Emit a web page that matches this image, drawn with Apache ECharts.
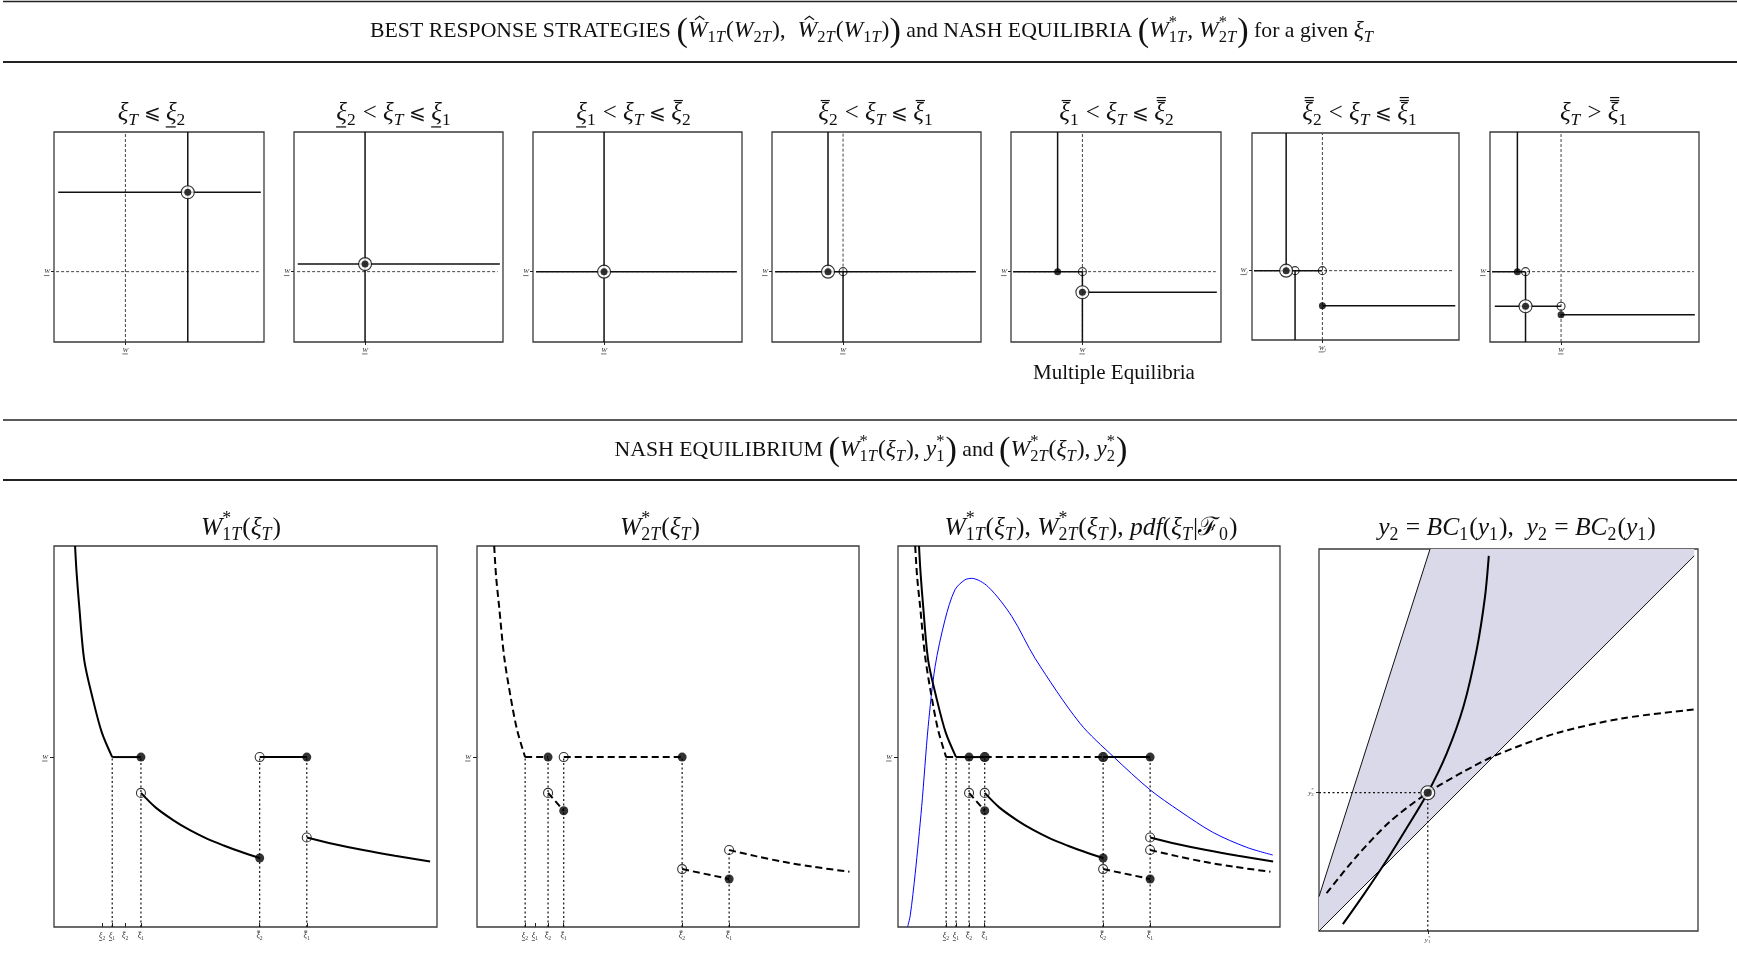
<!DOCTYPE html>
<html>
<head>
<meta charset="utf-8">
<script src="https://cdn.jsdelivr.net/npm/echarts@6.0.0/dist/echarts.min.js"></script>
<style>
html,body{margin:0;padding:0;background:#ffffff;}
#chart{width:1737px;height:978px;}
</style>
</head>
<body>
<div id="chart"></div>
<script>
// ================= DATA =================
// ---- Top row: best-response diagrams (axes normalised 0..1) ----
const topWx = 0.34;    // W̲ on the horizontal axis
const topWy = 0.335;   // W̲ on the vertical axis

const p1Ref    = [[[0.34,0],[0.34,1]], [[0.01,0.335],[0.975,0.335]]];
const p1Solid  = [[[0.637,0],[0.637,1]], [[0.02,0.713],[0.985,0.713]]];
const p1Filled = [];
const p1Open   = [];
const p1Eq     = [[0.637,0.713]];

const p2Ref    = [[[0.015,0.335],[0.975,0.335]]];
const p2Solid  = [[[0.34,0],[0.34,1]], [[0.018,0.371],[0.985,0.371]]];
const p2Filled = [];
const p2Open   = [];
const p2Eq     = [[0.34,0.371]];

const p3Ref    = [[[0.015,0.335],[0.975,0.335]]];
const p3Solid  = [[[0.34,0],[0.34,1]], [[0.015,0.335],[0.975,0.335]]];
const p3Filled = [];
const p3Open   = [];
const p3Eq     = [[0.34,0.335]];

const p4Ref    = [[[0.34,0.335],[0.34,1]], [[0.015,0.335],[0.975,0.335]]];
const p4Solid  = [[[0.268,1],[0.268,0.335]], [[0.015,0.335],[0.975,0.335]], [[0.34,0.335],[0.34,0]]];
const p4Filled = [];
const p4Open   = [[0.34,0.335]];
const p4Eq     = [[0.268,0.335]];

const p5Ref    = [[[0.34,0],[0.34,1]], [[0.01,0.335],[0.975,0.335]]];
const p5Solid  = [[[0.222,1],[0.222,0.335]], [[0.01,0.335],[0.34,0.335]], [[0.34,0.335],[0.34,0]], [[0.34,0.237],[0.98,0.237]]];
const p5Filled = [[0.222,0.335]];
const p5Open   = [[0.34,0.335]];
const p5Eq     = [[0.34,0.237]];

const p6Ref    = [[[0.34,0],[0.34,1]], [[0.01,0.335],[0.975,0.335]]];
const p6Solid  = [[[0.165,1],[0.165,0.335]], [[0.01,0.335],[0.34,0.335]], [[0.208,0.335],[0.208,0]], [[0.34,0.165],[0.982,0.165]]];
const p6Filled = [[0.34,0.165]];
const p6Open   = [[0.208,0.335],[0.34,0.335]];
const p6Eq     = [[0.165,0.335]];

const p7Ref    = [[[0.34,0],[0.34,1]], [[0.01,0.335],[0.975,0.335]]];
const p7Solid  = [[[0.131,1],[0.131,0.335]], [[0.01,0.335],[0.17,0.335]], [[0.17,0.335],[0.17,0]], [[0.023,0.17],[0.34,0.17]], [[0.34,0.13],[0.98,0.13]]];
const p7Filled = [[0.131,0.335],[0.34,0.13]];
const p7Open   = [[0.17,0.335],[0.34,0.17]];
const p7Eq     = [[0.17,0.17]];

// ---- Bottom row: Nash equilibrium wealth vs ξ_T (axes 0..100) ----
const xiTicks = [12.6, 15.2, 18.6, 22.7, 53.7, 66.0];
const xiBars  = ['u','u','o','o','oo','oo'];   // under-bar, bar, double bar
const xiSubs  = ['2','1','2','1','2','1'];
const wLevel  = 44.6;

const w1Curve1 = [[5.5,100],[5.9,93],[6.6,84],[7.9,70],[10.1,60],[12.5,51],[15.2,44.6]];
const w1Flat1  = [[15.2,44.6],[22.7,44.6]];
const w1Curve2 = [[22.7,35.2],[26.5,31.4],[31.2,28.0],[35.5,25.4],[39.9,23.2],[44.3,21.4],[48.6,19.8],[53.7,18.1]];
const w1Flat2  = [[53.7,44.6],[66.0,44.6]];
const w1Curve3 = [[66.0,23.5],[73.0,21.8],[80.7,20.2],[89.0,18.7],[98.2,17.2]];
const w1Filled = [[22.7,44.6],[53.7,18.1],[66.0,44.6]];
const w1Open   = [[22.7,35.2],[53.7,44.6],[66.0,23.5]];
const w1Drops  = [[15.2,44.6],[22.7,44.6],[53.7,44.6],[66.0,44.6]];

const w2Curve1 = [[4.5,100],[5.0,92],[5.8,84],[7.1,71],[8.8,60.4],[10.5,51.7],[12.6,44.6]];
const w2Flat1  = [[12.6,44.6],[18.6,44.6]];
const w2Seg2   = [[18.6,35.2],[22.7,30.5]];
const w2Flat2  = [[22.7,44.6],[53.7,44.6]];
const w2Seg3   = [[53.7,15.2],[66.0,12.6]];
const w2Curve4 = [[66.0,20.2],[73.0,18.6],[80.2,17.1],[88.0,15.8],[97.5,14.5]];
const w2Filled = [[18.6,44.6],[22.7,30.5],[53.7,44.6],[66.0,12.6]];
const w2Open   = [[18.6,35.2],[22.7,44.6],[53.7,15.2],[66.0,20.2]];
const w2Drops  = [[12.6,44.6],[18.6,44.6],[22.7,44.6],[53.7,44.6],[66.0,20.2]];

const pdfCurve = [[2.5,0],[3.2,3],[4.5,14],[6.2,31.6],[7.9,52.6],[9.7,68.3],[12.3,80.6],[14.9,88.5],[17.5,91.1],[19.3,91.5],[23.6,89.3],[29.8,81.5],[35.9,70.5],[47.6,53.5],[56.4,44.7],[66.0,36.0],[73.8,30.4],[82.5,24.8],[91.3,20.9],[98.1,18.9]];

// ---- Bottom right: best-response curves in (y1, y2) ----
const bcLower  = [[0,0],[99,98.2]];
const bcUpper  = [[0,9],[29.3,100]];
const bcRegion = [[0,0],[0,9],[29.3,100],[99,100],[99,98.2]];
const bc1      = [[6.3,1.8],[11.7,9.4],[17.9,18.6],[23.1,26.9],[28.7,36.2],[33.7,46.5],[38.1,58.7],[41.6,73.6],[43.8,87.5],[44.8,98.2]];
const bc2      = [[2.0,9.9],[9.9,19.5],[18.7,28.6],[28.7,36.2],[38.1,41.7],[46.9,46.1],[62.7,51.8],[80.3,55.7],[99.0,58.0]];
const bcEq     = [[28.7,36.2]];

// ================= BUILD =================
const INK = '#111';
const grids = [], xAxes = [], yAxes = [], series = [];

function addGrid(l, t, w, h) {
  grids.push({left:l, top:t, width:w, height:h, show:true, borderColor:'#3a3a3a', borderWidth:1.3,
    backgroundColor:'rgba(0,0,0,0)', containLabel:false, outerBoundsMode:'none'});
  return grids.length - 1;
}
function mkAxis(gi, min, max, ticks, inside, len) {
  return {
    type:'value', gridIndex:gi, min:min, max:max,
    axisLine:{show:false}, splitLine:{show:false},
    axisTick:{show:true, customValues:ticks, inside:inside, length:len, lineStyle:{color:'#222', width:1}},
    axisLabel:{show:false}
  };
}
function addLine(gi, pts, style, smooth, z) {
  series.push({type:'line', xAxisIndex:gi, yAxisIndex:gi, data:pts, symbol:'none', showSymbol:false,
    smooth: smooth ? 0.3 : false, lineStyle:style, silent:true, animation:false, z: z || 3});
}
function addDots(gi, pts, kind, size) {
  if (!pts.length) return;
  const isOpen = kind === 'open';
  series.push({type:'scatter', xAxisIndex:gi, yAxisIndex:gi, data:pts, symbol:'circle', symbolSize:size,
    itemStyle: isOpen ? {color:'rgba(255,255,255,0)', borderColor:'#000', borderWidth:1.1}
                      : {color:'#000', borderColor:'#000', borderWidth:0},
    silent:true, animation:false, z: isOpen ? 5 : 6});
}
function addEq(gi, pts, ring, dot) {
  if (!pts.length) return;
  series.push({type:'scatter', xAxisIndex:gi, yAxisIndex:gi, data:pts, symbol:'circle', symbolSize:ring,
    itemStyle:{color:'#fff', borderColor:'#000', borderWidth:1.1}, silent:true, animation:false, z:7});
  series.push({type:'scatter', xAxisIndex:gi, yAxisIndex:gi, data:pts, symbol:'circle', symbolSize:dot,
    itemStyle:{color:'#000'}, silent:true, animation:false, z:8});
}

const refStyle   = {color:'#444', width:1, type:[3,2]};
const solidTop   = {color:'#111', width:1.5};
const solidBot   = {color:'#000', width:2};
const dashedBot  = {color:'#000', width:2, type:[7,4]};
const dottedBot  = {color:'#111', width:1.2, type:[2,2.5]};

// ---- top row ----
const topBoxes = [[54,132,210,210],[294,132,209,210],[533,132,209,210],[772,132,209,210],[1011,132,210,210],[1252,133,207,207],[1490,132,209,210]];
const topPanels = [
  [p1Ref,p1Solid,p1Filled,p1Open,p1Eq],
  [p2Ref,p2Solid,p2Filled,p2Open,p2Eq],
  [p3Ref,p3Solid,p3Filled,p3Open,p3Eq],
  [p4Ref,p4Solid,p4Filled,p4Open,p4Eq],
  [p5Ref,p5Solid,p5Filled,p5Open,p5Eq],
  [p6Ref,p6Solid,p6Filled,p6Open,p6Eq],
  [p7Ref,p7Solid,p7Filled,p7Open,p7Eq]
];
topPanels.forEach(function (pd, k) {
  const b = topBoxes[k];
  const gi = addGrid(b[0], b[1], b[2], b[3]);
  xAxes.push(mkAxis(gi, 0, 1, [topWx], false, 3));
  yAxes.push(mkAxis(gi, 0, 1, [topWy], false, 3));
  pd[0].forEach(function (s) { addLine(gi, s, refStyle, false, 2); });
  pd[1].forEach(function (s) { addLine(gi, s, solidTop, false, 3); });
  addDots(gi, pd[3], 'open', 8);
  addDots(gi, pd[2], 'filled', 7);
  addEq(gi, pd[4], 13, 7);
});

// ---- bottom row ----
function bottomAxes(gi) {
  xAxes.push(mkAxis(gi, 0, 100, xiTicks, true, 4));
  yAxes.push(mkAxis(gi, 0, 100, [wLevel], false, 4));
}
function drawDrops(gi, pts) {
  pts.forEach(function (p) { addLine(gi, [[p[0], 0], p], dottedBot, false, 2); });
}
function drawW1(gi) {
  addLine(gi, w1Curve1, solidBot, true, 4);
  addLine(gi, w1Flat1, solidBot, false, 4);
  addLine(gi, w1Curve2, solidBot, true, 4);
  addLine(gi, w1Flat2, solidBot, false, 4);
  addLine(gi, w1Curve3, solidBot, true, 4);
}
function drawW2(gi) {
  addLine(gi, w2Curve1, dashedBot, true, 4);
  addLine(gi, w2Flat1, dashedBot, false, 4);
  addLine(gi, w2Seg2, dashedBot, false, 4);
  addLine(gi, w2Flat2, dashedBot, false, 4);
  addLine(gi, w2Seg3, dashedBot, false, 4);
  addLine(gi, w2Curve4, dashedBot, true, 4);
}

const g1 = addGrid(54, 546, 383, 381);
bottomAxes(g1);
drawDrops(g1, w1Drops);
drawW1(g1);
addDots(g1, w1Open, 'open', 9);
addDots(g1, w1Filled, 'filled', 9);

const g2 = addGrid(477, 546, 382, 381);
bottomAxes(g2);
drawDrops(g2, w2Drops);
drawW2(g2);
addDots(g2, w2Open, 'open', 9);
addDots(g2, w2Filled, 'filled', 9);

const g3 = addGrid(898, 546, 382, 381);
bottomAxes(g3);
drawDrops(g3, xiTicks.map(function (x) { return [x, wLevel]; }));
addLine(g3, pdfCurve, {color:'#0000ff', width:1}, true, 3);
drawW1(g3);
drawW2(g3);
addDots(g3, w1Open.concat(w2Open), 'open', 9);
addDots(g3, w1Filled.concat(w2Filled), 'filled', 9);

const g4 = addGrid(1319, 549, 379, 382);
xAxes.push(mkAxis(g4, 0, 100, [bcEq[0][0]], false, 3));
yAxes.push(mkAxis(g4, 0, 100, [bcEq[0][1]], false, 3));
series.push({type:'custom', xAxisIndex:g4, yAxisIndex:g4, data:bcRegion, silent:true, animation:false, z:1,
  renderItem: function (params, api) {
    if (params.dataIndex !== 0) return null;
    const pts = bcRegion.map(function (p) { return api.coord(p); });
    return {type:'polygon', shape:{points:pts}, style:{fill:'#d9d9ea', stroke:'none'}};
  }});
addLine(g4, bcLower, {color:'#111', width:1}, false, 3);
addLine(g4, bcUpper, {color:'#111', width:1}, false, 3);
addLine(g4, [[0, bcEq[0][1]], bcEq[0]], dottedBot, false, 3);
addLine(g4, [[bcEq[0][0], 0], bcEq[0]], dottedBot, false, 3);
addLine(g4, bc1, solidBot, true, 4);
addLine(g4, bc2, dashedBot, true, 4);
addEq(g4, bcEq, 14, 8);

const chart = echarts.init(document.getElementById('chart'), null, {renderer:'canvas', width:1737, height:978});
chart.setOption({
  animation:false, backgroundColor:'#ffffff',
  grid:grids, xAxis:xAxes, yAxis:yAxes, series:series
});

// ================= MATH-LIKE TEXT LAYOUT =================
const MFONT = '"Liberation Serif", "DejaVu Serif", serif';
const mctx = document.createElement('canvas').getContext('2d');
function fstr(it, sz) { return (it ? 'italic ' : '') + sz.toFixed(2) + 'px ' + MFONT; }
function mw(t, it, sz) { mctx.font = fstr(it, sz); return mctx.measureText(t).width; }

// tokens: ['m',text,italic,bar] | ['c',text] (text, slightly smaller) | ['r',text] (relation symbol)
//         ['h',text,italic] (hat) | ['s',[[t,it]..]] | ['p',text] | ['ps',sup,[[t,it]..]] | ['b',text]
function layoutMath(tokens, fs) {
  const subSz = fs * 0.7, bigSz = fs * 1.45;
  let x = 0; const items = [];
  tokens.forEach(function (tok) {
    const k = tok[0];
    if (k === 'm' || k === 'c' || k === 'h' || k === 'r') {
      const it = (k === 'c' || k === 'r') ? false : !!tok[2];
      const sz = k === 'c' ? fs * 0.92 : (k === 'r' ? fs * 0.8 : fs);
      const w = mw(tok[1], it, sz);
      items.push({type:'t', x:x, t:tok[1], it:it, sz:sz, dy:k === 'r' ? 0.03 * fs : 0});
      const bar = k === 'm' ? tok[3] : null;
      if (bar === 'u') items.push({type:'l', x1:x - 0.02 * w, x2:x + 0.92 * w, dy:0.56 * fs});
      if (bar === 'o' || bar === 'oo') items.push({type:'l', x1:x + 0.22 * w, x2:x + 1.08 * w, dy:-0.5 * fs});
      if (bar === 'oo') items.push({type:'l', x1:x + 0.22 * w, x2:x + 1.08 * w, dy:-0.62 * fs});
      if (k === 'h') items.push({type:'hat', xc:x + 0.6 * w, dy:-0.48 * fs, hw:0.2 * fs, hh:0.14 * fs});
      x += w;
    } else if (k === 's' || k === 'ps') {
      const parts = k === 's' ? tok[1] : tok[2];
      let sx = x;
      parts.forEach(function (p) {
        const w = mw(p[0], !!p[1], subSz);
        items.push({type:'t', x:sx, t:p[0], it:!!p[1], sz:subSz, dy:0.3 * fs});
        sx += w;
      });
      let ex = sx;
      if (k === 'ps') {
        const w = mw(tok[1], false, subSz);
        items.push({type:'t', x:x, t:tok[1], it:false, sz:subSz, dy:-0.36 * fs});
        ex = Math.max(ex, x + w);
      }
      x = ex + 0.04 * fs;
    } else if (k === 'p') {
      const w = mw(tok[1], false, subSz);
      items.push({type:'t', x:x, t:tok[1], it:false, sz:subSz, dy:-0.36 * fs});
      x += w + 0.04 * fs;
    } else if (k === 'b') {
      const w = mw(tok[1], false, bigSz);
      items.push({type:'t', x:x, t:tok[1], it:false, sz:bigSz, dy:0.03 * fs});
      x += w;
    }
  });
  return {items:items, width:x};
}
function fitSize(tokens, targetW, base) { return base * targetW / layoutMath(tokens, base).width; }
function mathEls(cx, cy, tokens, fs, anchor, color) {
  const L = layoutMath(tokens, fs);
  const x0 = anchor === 'right' ? cx - L.width : cx - L.width / 2;
  const col = color || INK;
  const lw = Math.max(0.7, fs * 0.05);
  return L.items.map(function (it) {
    if (it.type === 't') {
      return {type:'text', x:x0 + it.x, y:cy + it.dy, z:20, silent:true,
        style:{text:it.t, font:fstr(it.it, it.sz), fill:col, align:'left', verticalAlign:'middle'}};
    }
    if (it.type === 'l') {
      return {type:'line', z:20, silent:true, shape:{x1:x0 + it.x1, y1:cy + it.dy, x2:x0 + it.x2, y2:cy + it.dy},
        style:{stroke:col, lineWidth:lw}};
    }
    return {type:'polyline', z:20, silent:true,
      shape:{points:[[x0 + it.xc - it.hw, cy + it.dy], [x0 + it.xc, cy + it.dy - it.hh], [x0 + it.xc + it.hw, cy + it.dy]]},
      style:{stroke:col, lineWidth:lw, fill:null}};
  });
}
function median(a) { const s = a.slice().sort(function (p, q) { return p - q; }); return s[Math.floor(s.length / 2)]; }

// token helpers
const XIT = [['m','\u03BE',1],['s',[['T',1]]]];
function XI(bar, sub) { return [['m','\u03BE',1,bar],['s',[[sub,0]]]]; }
function WST(k) { return [['m','W',1],['ps','*',[[k,0],['T',1]]]]; }
function M(t, it) { return [['m', t, it ? 1 : 0]]; }
function cat() { return [].concat.apply([], arguments); }

const gfx = [];
function rule(y, w) {
  gfx.push({type:'line', z:20, silent:true, shape:{x1:3, y1:y, x2:1737, y2:y}, style:{stroke:'#222', lineWidth:w}});
}
rule(1.5, 1.5); rule(62, 1.8); rule(420, 1.6); rule(480, 1.8);

// section titles
const title1 = cat([['c','BEST RESPONSE STRATEGIES ']], [['b','(']], [['h','W',1],['s',[['1',0],['T',1]]]], M('('), [['m','W',1],['s',[['2',0],['T',1]]]], M('),  '),
  [['h','W',1],['s',[['2',0],['T',1]]]], M('('), [['m','W',1],['s',[['1',0],['T',1]]]], M(')'), [['b',')']],
  [['c',' and NASH EQUILIBRIA ']], [['b','(']], WST('1'), M(', '), WST('2'), [['b',')']], [['c',' for a given ']], XIT);
const title2 = cat([['c','NASH EQUILIBRIUM ']], [['b','(']], WST('1'), M('('), XIT, M('), '), [['m','y',1],['ps','*',[['1',0]]]], [['b',')']],
  [['c',' and ']], [['b','(']], WST('2'), M('('), XIT, M('), '), [['m','y',1],['ps','*',[['2',0]]]], [['b',')']]);
Array.prototype.push.apply(gfx, mathEls(872, 31, title1, fitSize(title1, 1004, 20)));
Array.prototype.push.apply(gfx, mathEls(871, 450, title2, fitSize(title2, 513, 20)));
const me = [['m','Multiple Equilibria',0]];
Array.prototype.push.apply(gfx, mathEls(1114, 373, me, fitSize(me, 162, 16)));

// panel titles (top)
const LE = [['r',' \u2A7D ']], LT = M(' < '), GT = M(' > ');
const topTitles = [
  cat(XIT, LE, XI('u','2')),
  cat(XI('u','2'), LT, XIT, LE, XI('u','1')),
  cat(XI('u','1'), LT, XIT, LE, XI('o','2')),
  cat(XI('o','2'), LT, XIT, LE, XI('o','1')),
  cat(XI('o','1'), LT, XIT, LE, XI('oo','2')),
  cat(XI('oo','2'), LT, XIT, LE, XI('oo','1')),
  cat(XIT, GT, XI('oo','1'))
];
const topTitleW = [69, 114, 115, 115, 116, 114, 68];
const topTitleX = [152, 394, 634, 876, 1117, 1360, 1594];
const topFs = median(topTitles.map(function (t, k) { return fitSize(t, topTitleW[k], 18); }));
topTitles.forEach(function (t, k) { Array.prototype.push.apply(gfx, mathEls(topTitleX[k], 113, t, topFs)); });

// panel titles (bottom)
const botTitles = [
  cat(WST('1'), M('('), XIT, M(')')),
  cat(WST('2'), M('('), XIT, M(')')),
  cat(WST('1'), M('('), XIT, M('), '), WST('2'), M('('), XIT, M('), '), M('pdf', 1), M('('), XIT, M('|'), [['m','\u2131',0],['s',[['0',0]]]], M(')')),
  cat([['m','y',1],['s',[['2',0]]]], M(' = '), M('BC',1), [['s',[['1',0]]]], M('('), [['m','y',1],['s',[['1',0]]]], M('),  '),
      [['m','y',1],['s',[['2',0]]]], M(' = '), M('BC',1), [['s',[['2',0]]]], M('('), [['m','y',1],['s',[['1',0]]]], M(')'))
];
const botTitleW = [81, 80, 284, 249];
const botTitleX = [241, 660, 1091, 1517];
const botFs = median(botTitles.map(function (t, k) { return fitSize(t, botTitleW[k], 18); }));
botTitles.forEach(function (t, k) { Array.prototype.push.apply(gfx, mathEls(botTitleX[k], 528, t, botFs)); });

// ---- tick labels placed through the axes' own scales ----
const WL = [['m','W',1,'u']];
const WLj = [['m','W',1,'u'],['s',[['j',1]]]];
for (let k = 0; k < 7; k++) {
  const px = chart.convertToPixel({gridIndex:k}, [topWx, 0]);
  const py = chart.convertToPixel({gridIndex:k}, [0, topWy]);
  const lab = k === 5 ? WLj : WL;
  Array.prototype.push.apply(gfx, mathEls(px[0], px[1] + 8, lab, 7, 'center', '#333'));
  Array.prototype.push.apply(gfx, mathEls(py[0] - 4, py[1], lab, 7, 'right', '#333'));
}
[g1, g2, g3].forEach(function (g) {
  xiTicks.forEach(function (v, i) {
    const p = chart.convertToPixel({gridIndex:g}, [v, 0]);
    Array.prototype.push.apply(gfx, mathEls(p[0], p[1] + 9, XI(xiBars[i], xiSubs[i]), 8, 'center', '#333'));
  });
  const q = chart.convertToPixel({gridIndex:g}, [0, wLevel]);
  Array.prototype.push.apply(gfx, mathEls(q[0] - 6, q[1], WL, 7, 'right', '#333'));
});
const yx = chart.convertToPixel({gridIndex:g4}, [bcEq[0][0], 0]);
const yy = chart.convertToPixel({gridIndex:g4}, [0, bcEq[0][1]]);
Array.prototype.push.apply(gfx, mathEls(yx[0], yx[1] + 9, [['m','y',1],['ps','*',[['1',0]]]], 7, 'center', '#333'));
Array.prototype.push.apply(gfx, mathEls(yy[0] - 5, yy[1], [['m','y',1],['ps','*',[['2',0]]]], 7, 'right', '#333'));

chart.setOption({graphic:gfx});
</script>
</body>
</html>
